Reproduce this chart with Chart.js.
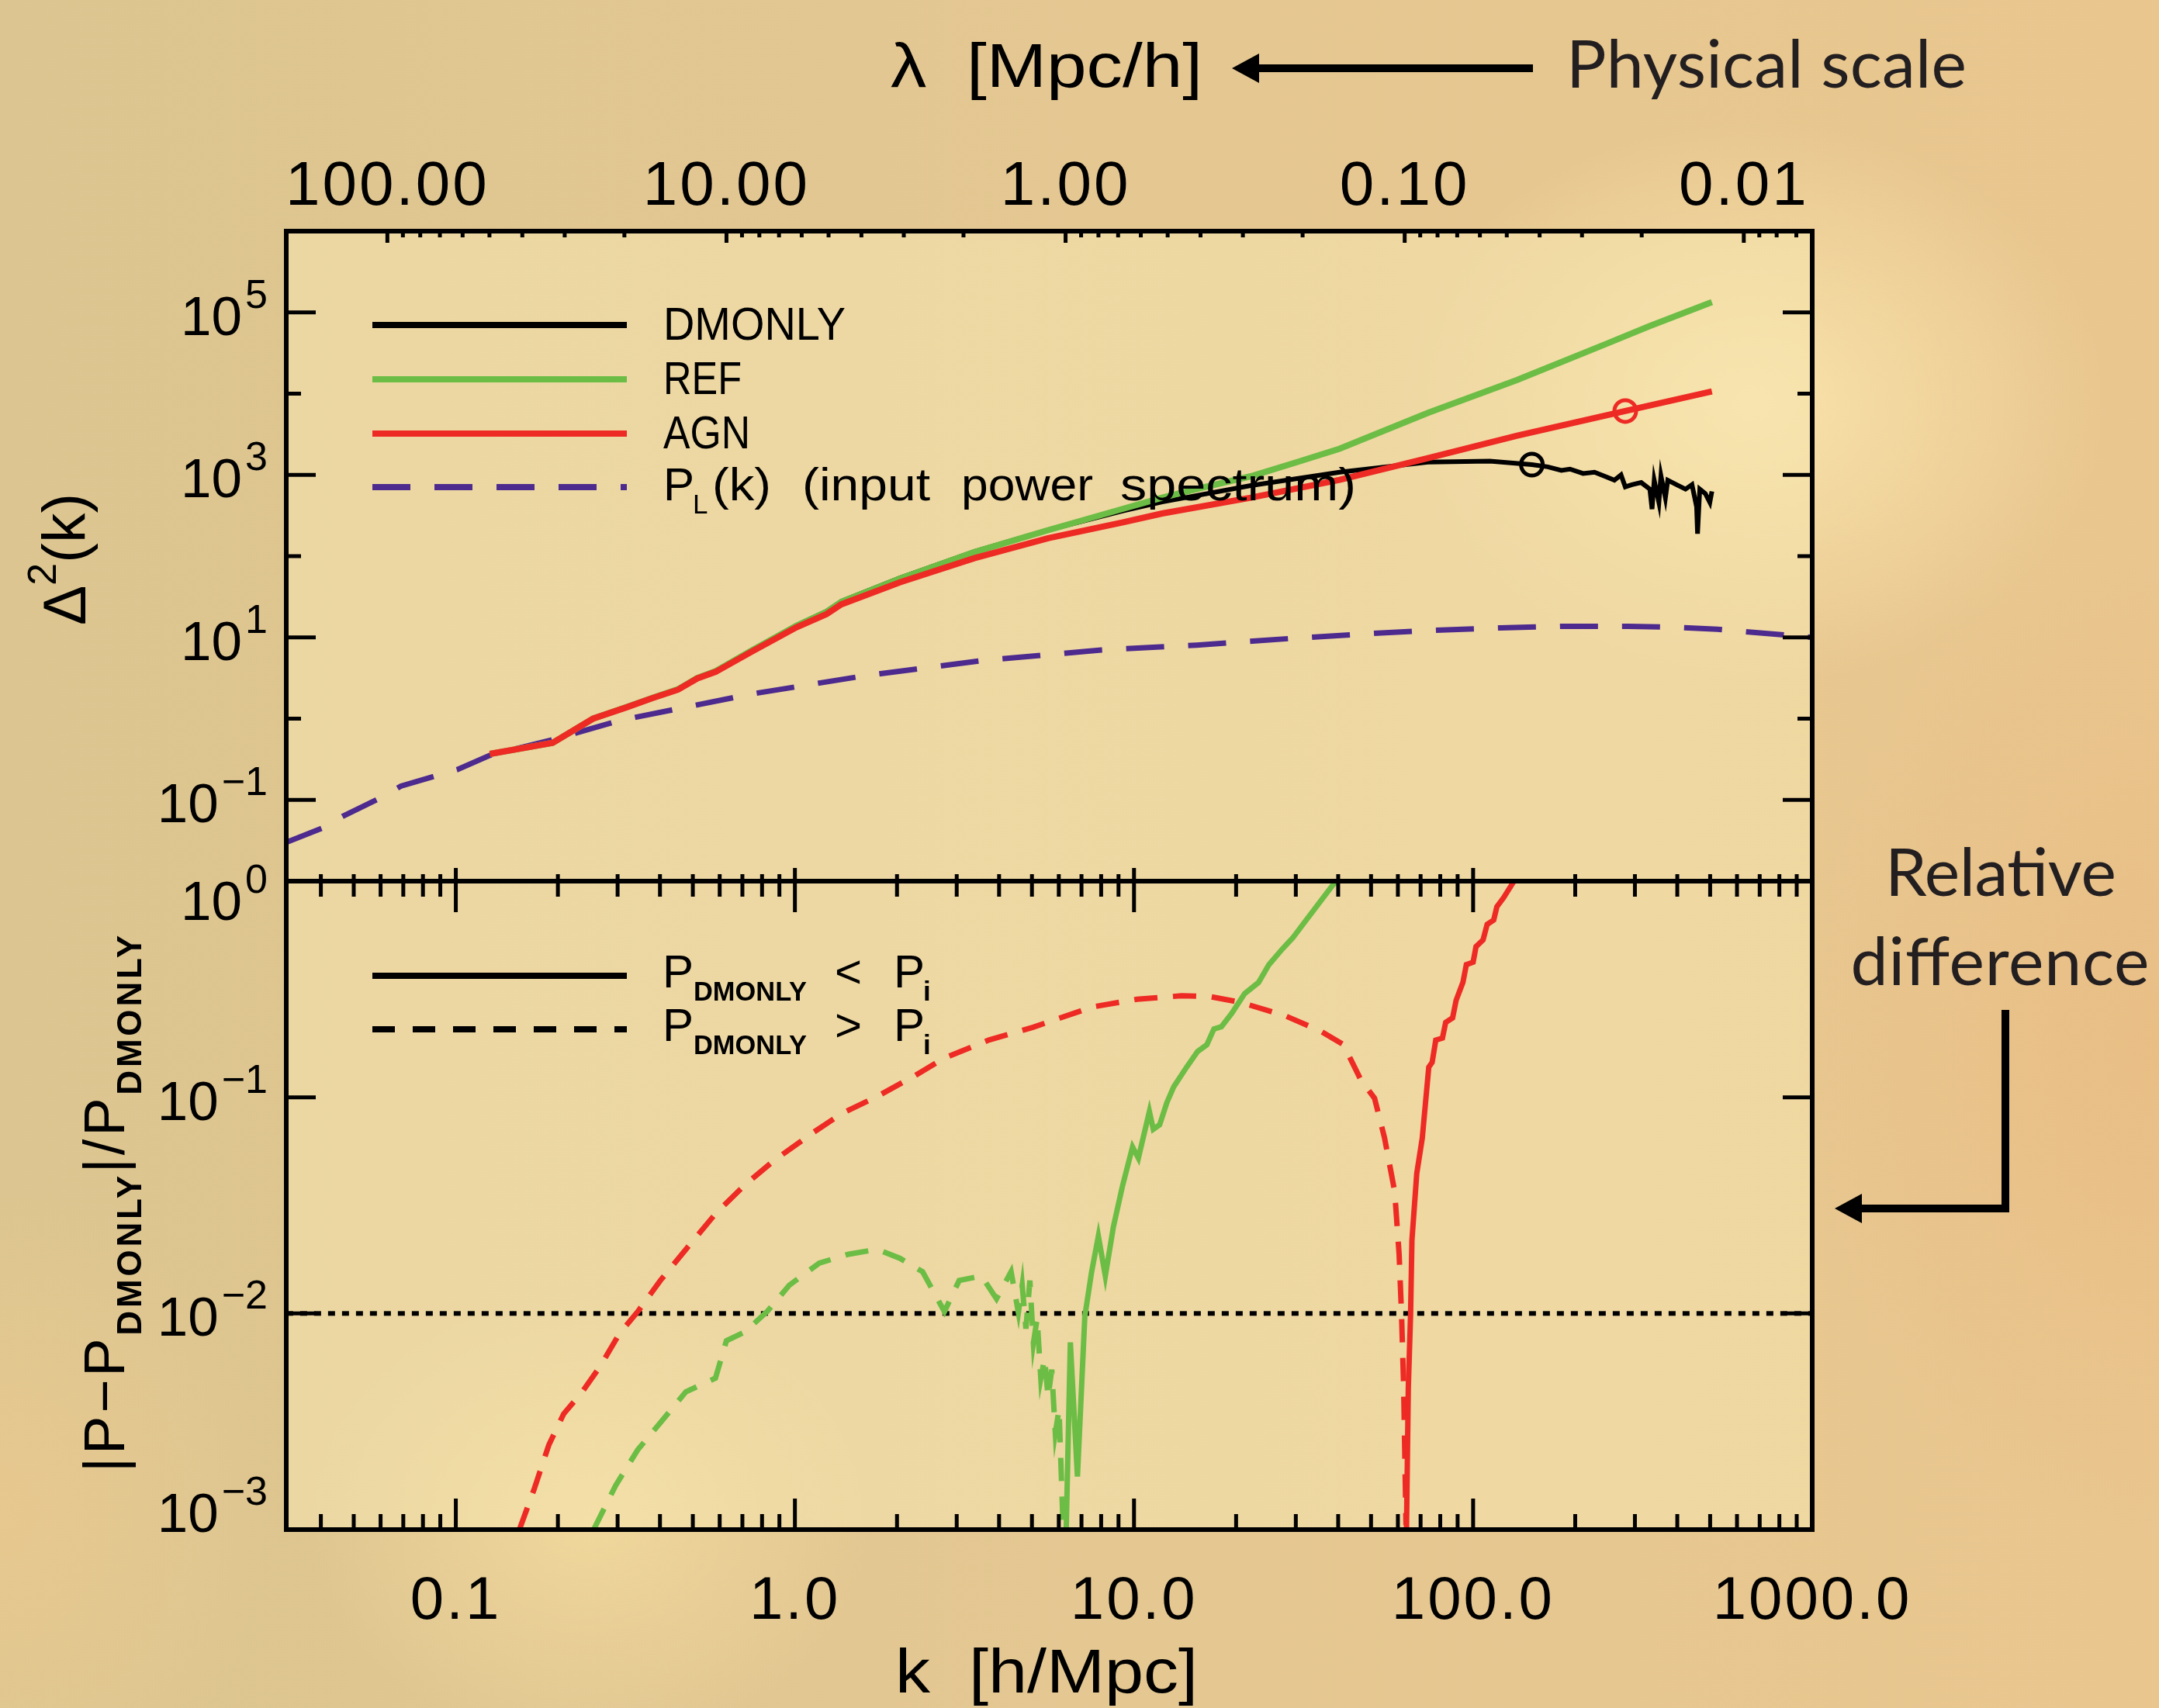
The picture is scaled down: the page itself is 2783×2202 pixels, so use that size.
<!DOCTYPE html>
<html>
<head>
<meta charset="utf-8">
<script src="https://cdn.jsdelivr.net/npm/chart.js@4.4.1/dist/chart.umd.min.js"></script>
<style>
html, body { margin: 0; padding: 0; }
body {
    width: 2783px; height: 2202px; overflow: hidden; position: relative;
    background:
        radial-gradient(650px 520px at 2260px 520px, rgba(252,232,176,0.85), rgba(252,232,176,0) 70%),
        radial-gradient(520px 420px at 760px 1960px, rgba(250,226,162,0.6), rgba(250,226,162,0) 70%),
        radial-gradient(700px 900px at 2783px 1350px, rgba(232,184,126,0.55), rgba(232,184,126,0) 70%),
        radial-gradient(500px 600px at 0px 1950px, rgba(242,204,142,0.5), rgba(242,204,142,0) 70%),
        linear-gradient(90deg, #dcc590 0%, #e3c792 40%, #e7c790 75%, #e9c68e 100%);
}
canvas, svg { position: absolute; left: 0; top: 0; }
</style>
</head>
<body>
<canvas id="lower" width="2783" height="2202"></canvas>
<canvas id="upper" width="2783" height="2202"></canvas>
<svg id="notes" width="2783" height="2202" xmlns="http://www.w3.org/2000/svg">
    <!-- 顶部注释 -->
    <text x="1148" y="112" xml:space="preserve" font-family="Liberation Sans, Arial, sans-serif" font-size="80" textLength="402" lengthAdjust="spacingAndGlyphs">λ  [Mpc/h]</text>
    <rect x="1619" y="83" width="357" height="10" fill="#000"/>
    <polygon points="1588,88 1623,69 1623,107" fill="#000"/>
    <text x="2019" y="113" font-family="Lato, 'Open Sans', sans-serif" font-size="86" fill="#231f20" textLength="516" lengthAdjust="spacing">Physical scale</text>
    <!-- 右侧注释 -->
    <text x="2579" y="1155" text-anchor="middle" font-family="Lato, 'Open Sans', sans-serif" font-size="86" fill="#231f20" textLength="298" lengthAdjust="spacing">Relative</text>
    <text x="2578" y="1270" text-anchor="middle" font-family="Lato, 'Open Sans', sans-serif" font-size="86" fill="#231f20" textLength="385" lengthAdjust="spacing">difference</text>
    <rect x="2580" y="1302" width="10" height="261" fill="#000"/>
    <rect x="2396" y="1553" width="194" height="10" fill="#000"/>
    <polygon points="2365,1558 2400,1539 2400,1577" fill="#000"/>
    <!-- 坐标轴标题 -->
    <text x="1154" y="2182" xml:space="preserve" font-family="Liberation Sans, Arial, sans-serif" font-size="80" textLength="390" lengthAdjust="spacingAndGlyphs">k  [h/Mpc]</text>
    <g transform="translate(110,721) rotate(-90)">
        <text x="0" y="0" text-anchor="middle" font-family="Liberation Sans, Arial, sans-serif" font-size="77">Δ<tspan dy="-38" font-size="52">2</tspan><tspan dy="38">(k)</tspan></text>
    </g>
    <g transform="translate(160,1552) rotate(-90)">
        <text x="0" y="0" text-anchor="middle" font-family="Liberation Sans, Arial, sans-serif" font-size="74" textLength="692" lengthAdjust="spacing">|P−P<tspan dy="22" font-size="44" font-weight="bold">DMONLY</tspan><tspan dy="-22">|/P</tspan><tspan dy="22" font-size="44" font-weight="bold">DMONLY</tspan></text>
    </g>
</svg>
<script>
// ---- 上图: Δ²(k) ----
const kLinear = [0.0316, 0.0408, 0.0463, 0.0594, 0.0689, 0.0866, 0.101, 0.126, 0.193, 0.303, 0.75, 1.59, 3.55, 8.0, 15.3, 30, 51, 74, 120, 182, 286, 400, 525, 1000];
const deltaLinear = [0.030, 0.0458, 0.0627, 0.104, 0.148, 0.196, 0.236, 0.354, 0.55, 0.946, 2.02, 3.35, 5.18, 7.0, 8.04, 9.8, 11.2, 12.2, 13.1, 13.7, 13.7, 13.3, 12.6, 10.0];

const kDmonly = [0.126, 0.193, 0.254, 0.319, 0.38, 0.452, 0.515, 0.584, 0.75, 1.01, 1.24, 1.37, 2.04, 3.38, 5.58, 9.23, 12.1, 22.1, 40.4, 73.6, 112, 149, 166, 182, 193, 211, 228, 246, 261, 273, 281, 294, 313, 332, 337, 342, 353, 358, 369, 375, 398, 423, 442, 456, 459, 466, 484, 499, 506];
const deltaDmonly = [0.368, 0.505, 1.0, 1.39, 1.81, 2.31, 3.19, 3.88, 7.06, 14.1, 21.0, 27.8, 54, 114, 210, 360, 465, 740, 1080, 1440, 1476, 1337, 1256, 1135, 1180, 1040, 1080, 951, 860, 1000, 712, 758, 807, 668, 379, 860, 458, 975, 519, 860, 758, 668, 758, 404, 189, 668, 589, 458, 627];

const kRef = [0.126, 0.193, 0.254, 0.319, 0.38, 0.452, 0.515, 0.584, 0.75, 1.01, 1.24, 1.37, 2.04, 3.38, 5.58, 9.23, 12.1, 16.0, 22.1, 30, 40.4, 73.6, 135, 246, 331, 506];
const deltaRef = [0.368, 0.505, 1.0, 1.39, 1.80, 2.30, 3.17, 3.85, 7.0, 13.9, 20.6, 27.3, 53, 112, 209, 380, 523, 703, 962, 1422, 2100, 5800, 14750, 40700, 67800, 133500];

const kAgn = [0.126, 0.193, 0.254, 0.319, 0.38, 0.452, 0.515, 0.584, 0.75, 1.01, 1.24, 1.37, 2.04, 3.38, 5.58, 9.23, 12.1, 22.1, 40.4, 73.6, 135, 281, 506];
const deltaAgn = [0.368, 0.504, 1.0, 1.38, 1.79, 2.27, 3.12, 3.77, 6.77, 13.3, 19.4, 25.5, 47.7, 94.4, 166, 259, 335, 524, 869, 1610, 3040, 6110, 10640];

// 圆圈标记
const kDmonlyMark = [149];
const deltaDmonlyMark = [1337];
const kAgnMark = [281];
const deltaAgnMark = [6110];

// ---- 下图: |P-P_DMONLY|/P_DMONLY ----
const kRefAbove = [0.255, 0.296, 0.344, 0.400, 0.477, 0.583, 0.628, 0.713, 0.828, 0.962, 1.18, 1.44, 1.75, 2.04, 2.38, 2.76, 3.05, 3.55, 3.93, 4.34, 4.56, 4.68, 4.80, 4.93, 5.05, 5.18, 5.31, 5.45, 5.58, 5.72, 5.86, 6.01, 6.17];
const relRefAbove = [0.001, 0.0016, 0.00234, 0.00311, 0.00434, 0.00502, 0.00748, 0.00823, 0.0102, 0.0135, 0.0171, 0.0188, 0.0198, 0.018, 0.0156, 0.0102, 0.0142, 0.0149, 0.0117, 0.0156, 0.0101, 0.0135, 0.0085, 0.0142, 0.0073, 0.0095, 0.0050, 0.0062, 0.0041, 0.0055, 0.0028, 0.0036, 0.00109];

const kRefBelow = [6.31, 6.49, 6.81, 7.16, 7.50, 7.85, 8.23, 8.69, 9.23, 9.90, 10.3, 11.1, 11.4, 11.9, 12.5, 13.1, 14.3, 15.4, 16.4, 17.2, 18.1, 19.4, 21.2, 23.3, 25.0, 27.4, 29.4, 31.5, 34.5, 38.7, 40.0];
const relRefBelow = [0.001, 0.00735, 0.00176, 0.0097, 0.0156, 0.0228, 0.0149, 0.0251, 0.0384, 0.0589, 0.0523, 0.0860, 0.0711, 0.0746, 0.0946, 0.112, 0.138, 0.163, 0.175, 0.207, 0.212, 0.244, 0.302, 0.340, 0.411, 0.486, 0.547, 0.631, 0.762, 0.967, 1.0];

const kAgnAbove = [0.154, 0.170, 0.188, 0.208, 0.236, 0.268, 0.303, 0.344, 0.401, 0.477, 0.583, 0.713, 0.869, 1.12, 1.37, 1.75, 2.26, 2.76, 3.73, 5.04, 7.55, 10.2, 13.8, 16.8, 20.6, 27.8, 35.6, 41.5, 46.7, 51.2, 54.8, 58.7, 60.5, 61.5, 62.4, 63.4];
const relAgnAbove = [0.001, 0.00153, 0.00246, 0.00343, 0.00434, 0.00577, 0.00802, 0.0102, 0.0142, 0.0198, 0.0289, 0.0394, 0.0511, 0.0679, 0.0839, 0.101, 0.126, 0.152, 0.184, 0.211, 0.262, 0.284, 0.295, 0.292, 0.275, 0.239, 0.202, 0.175, 0.120, 0.099, 0.0649, 0.0367, 0.0188, 0.00994, 0.00454, 0.00105];

const kAgnBelow = [63.6, 64.4, 65.4, 66.0, 68.2, 70.8, 74.0, 75.7, 77.6, 81.2, 83.0, 87.0, 89.1, 93.3, 95.5, 100, 102, 107, 110, 115, 117.5, 123, 132];
const relAgnBelow = [0.001, 0.00454, 0.00994, 0.0218, 0.0444, 0.0647, 0.138, 0.145, 0.184, 0.188, 0.222, 0.233, 0.281, 0.340, 0.411, 0.422, 0.498, 0.535, 0.631, 0.661, 0.762, 0.839, 1.0];

// 1% 参考线
const kLevel = [0.0316, 1000];
const relLevel = [0.01, 0.01];

// 刻度标签
const lambdaTickValues = [100, 10, 1, 0.1, 0.01];
const lambdaTickLabels = ['100.00', '10.00', '1.00', '0.10', '0.01'];
const kTickValues = [0.1, 1, 10, 100, 1000];
const kTickLabels = ['0.1', '1.0', '10.0', '100.0', '1000.0'];
const upperExponents = [-1, 1, 3, 5];
const lowerExponents = [0, -1, -2, -3];

// 图例
const upperLegendNames = ['DMONLY', 'REF', 'AGN'];

const K_MIN = Math.pow(10, -1.5);
const K_MAX = 1000;
const GREEN = '#6cbd45';
const RED = '#ee2a24';
const PURPLE = '#4d2a8e';
const FONT = '"Liberation Sans", Arial, sans-serif';

const zip = (xs, ys) => xs.map((x, i) => ({ x: x, y: ys[i] }));

function lineSet(xs, ys, color, width, dash) {
    return {
        data: zip(xs, ys),
        borderColor: color,
        borderWidth: width,
        borderDash: dash || [],
        pointRadius: 0,
        fill: false,
        tension: 0,
        xAxisID: 'x',
        yAxisID: 'y'
    };
}

function markSet(xs, ys, color) {
    return {
        data: zip(xs, ys),
        showLine: false,
        pointRadius: 14,
        pointBorderWidth: 5,
        pointBorderColor: color,
        pointBackgroundColor: 'rgba(0,0,0,0)',
        xAxisID: 'x',
        yAxisID: 'y'
    };
}

// 对数刻度: 1..9 × 10^n
function logTicks(min, max) {
    const out = [];
    for (let e = Math.floor(Math.log10(min)) - 1; e <= Math.ceil(Math.log10(max)); e++) {
        for (let m = 1; m <= 9; m++) {
            const v = m * Math.pow(10, e);
            if (v >= min * 0.9999 && v <= max * 1.0001) out.push({ v: v, major: m === 1 });
        }
    }
    return out;
}

function seg(ctx, x1, y1, x2, y2) {
    ctx.beginPath();
    ctx.moveTo(x1, y1);
    ctx.lineTo(x2, y2);
    ctx.stroke();
}

function put(ctx, s, x, y, size, opts) {
    opts = opts || {};
    ctx.font = (opts.bold ? 'bold ' : '') + size + 'px ' + FONT;
    ctx.textAlign = opts.align || 'left';
    ctx.textBaseline = 'alphabetic';
    ctx.fillStyle = '#000';
    ctx.fillText(s, x, y);
}

// 按给定宽度横向拉伸文字
function putFit(ctx, s, x, y, size, width, opts) {
    opts = opts || {};
    ctx.font = (opts.bold ? 'bold ' : '') + size + 'px ' + FONT;
    const w = ctx.measureText(s).width;
    ctx.save();
    ctx.translate(x, y);
    ctx.scale(width / w, 1);
    put(ctx, s, 0, 0, size, opts);
    ctx.restore();
}

function powLabel(ctx, exp, right, base) {
    const sup = exp < 0 ? '\u2212' + Math.abs(exp) : String(exp);
    ctx.font = '52px ' + FONT;
    const supW = ctx.measureText(sup).width;
    put(ctx, sup, right - supW, base - 35, 52);
    put(ctx, '10', right - supW - 4, base, 71, { align: 'right' });
}

function fillPlot(chart) {
    const { ctx, chartArea: a } = chart;
    ctx.save();
    ctx.fillStyle = 'rgba(246,230,176,0.55)';
    ctx.fillRect(a.left, a.top, a.right - a.left, a.bottom - a.top);
    ctx.restore();
}

function yLabels(chart, exps) {
    const { ctx, chartArea: a, scales } = chart;
    exps.forEach(e => {
        const py = scales.y.getPixelForValue(Math.pow(10, e));
        const base = Math.min(Math.max(py + 29, a.top + 50), a.bottom + 3);
        powLabel(ctx, e, 345, base);
    });
}

function legendLine(ctx, y, color, width, dash) {
    ctx.save();
    ctx.strokeStyle = color;
    ctx.lineWidth = width;
    ctx.lineCap = 'butt';
    ctx.setLineDash(dash || []);
    seg(ctx, 480, y, 808, y);
    ctx.restore();
}

// 上图: 坐标框、刻度、标签、图例
const upperFrame = {
    id: 'upperFrame',
    beforeDatasetsDraw(chart) { fillPlot(chart); },
    afterDatasetsDraw(chart) {
        const { ctx, chartArea: a, scales } = chart;
        ctx.save();
        ctx.strokeStyle = '#000';
        ctx.lineWidth = 5;
        logTicks(K_MIN, K_MAX).forEach(t => {
            const px = scales.x.getPixelForValue(t.v);
            seg(ctx, px, a.bottom, px, a.bottom - (t.major ? 17 : 9));
        });
        logTicks(scales.lam.min, scales.lam.max).forEach(t => {
            const px = scales.lam.getPixelForValue(t.v);
            seg(ctx, px, a.top, px, a.top + (t.major ? 15 : 8));
        });
        for (let e = -2; e <= 6; e++) {
            const py = scales.y.getPixelForValue(Math.pow(10, e));
            const len = upperExponents.includes(e) ? 38 : 19;
            seg(ctx, a.left, py, a.left + len, py);
            seg(ctx, a.right, py, a.right - len, py);
        }
        ctx.lineWidth = 6;
        ctx.strokeRect(a.left, a.top, a.right - a.left, a.bottom - a.top);

        ctx.letterSpacing = '3px';
        lambdaTickValues.forEach((v, i) => {
            put(ctx, lambdaTickLabels[i], scales.lam.getPixelForValue(v), 264, 80, { align: 'center' });
        });
        ctx.letterSpacing = '0px';
        yLabels(chart, upperExponents);

        // 图例
        const rows = [419, 489, 559, 628];
        legendLine(ctx, rows[0], '#000', 8);
        legendLine(ctx, rows[1], GREEN, 8);
        legendLine(ctx, rows[2], RED, 8);
        legendLine(ctx, rows[3], PURPLE, 8, [49, 31]);
        const nameWidths = [235, 101, 112];
        upperLegendNames.forEach((name, i) => putFit(ctx, name, 855, rows[i] + 19, 60, nameWidths[i]));
        const by = rows[3] + 17;
        put(ctx, 'P', 855, by, 60);
        put(ctx, 'L', 893, by + 17, 35);
        putFit(ctx, '(k)', 918, by, 60, 76);
        putFit(ctx, '(input', 1034, by, 60, 165);
        putFit(ctx, 'power', 1239, by, 60, 170);
        putFit(ctx, 'spectrum)', 1444, by, 60, 304);
        ctx.restore();
    }
};

// 下图: 坐标框、刻度、标签、图例
const lowerFrame = {
    id: 'lowerFrame',
    beforeDatasetsDraw(chart) { fillPlot(chart); },
    afterDatasetsDraw(chart) {
        const { ctx, chartArea: a, scales } = chart;
        ctx.save();
        ctx.strokeStyle = '#000';
        ctx.lineWidth = 5;
        logTicks(K_MIN, K_MAX).forEach(t => {
            const px = scales.x.getPixelForValue(t.v);
            const len = t.major ? 40 : 20;
            seg(ctx, px, a.top, px, a.top + len);
            seg(ctx, px, a.bottom, px, a.bottom - len);
        });
        lowerExponents.forEach(e => {
            const py = scales.y.getPixelForValue(Math.pow(10, e));
            seg(ctx, a.left, py, a.left + 38, py);
            seg(ctx, a.right, py, a.right - 38, py);
        });
        ctx.lineWidth = 6;
        ctx.strokeRect(a.left, a.top, a.right - a.left, a.bottom - a.top);

        ctx.letterSpacing = '3px';
        kTickValues.forEach((v, i) => {
            put(ctx, kTickLabels[i], scales.x.getPixelForValue(v), 2087, 78, { align: 'center' });
        });
        ctx.letterSpacing = '0px';
        yLabels(chart, lowerExponents);

        // 图例
        legendLine(ctx, 1258, '#000', 8);
        legendLine(ctx, 1327, '#000', 8, [29, 23]);
        [[1273, '<'], [1342, '>']].forEach(([by, op]) => {
            put(ctx, 'P', 854, by, 60);
            putFit(ctx, 'DMONLY', 894, by + 17, 35, 146, { bold: true });
            put(ctx, op, 1076, by, 60);
            put(ctx, 'P', 1152, by, 60);
            put(ctx, 'i', 1190, by + 17, 35, { bold: true });
        });
        ctx.restore();
    }
};

const baseOptions = (padding, yMin, yMax, extraScales) => ({
    responsive: false,
    animation: false,
    devicePixelRatio: 1,
    layout: { padding: padding },
    scales: Object.assign({
        x: { type: 'logarithmic', min: K_MIN, max: K_MAX, display: false },
        y: { type: 'logarithmic', min: yMin, max: yMax, display: false }
    }, extraScales || {}),
    plugins: { legend: { display: false }, tooltip: { enabled: false } },
    elements: { point: { radius: 0 }, line: { tension: 0 } }
});

new Chart(document.getElementById('upper'), {
    type: 'line',
    data: {
        datasets: [
            markSet(kDmonlyMark, deltaDmonlyMark, '#000'),
            markSet(kAgnMark, deltaAgnMark, RED),
            lineSet(kAgn, deltaAgn, RED, 8),
            lineSet(kRef, deltaRef, GREEN, 8),
            lineSet(kDmonly, deltaDmonly, '#000', 6),
            lineSet(kLinear, deltaLinear, PURPLE, 7, [49, 31])
        ]
    },
    options: baseOptions({ left: 369, right: 447, top: 298, bottom: 1066 }, 1e-2, 1e6, {
        lam: { type: 'logarithmic', axis: 'x', position: 'top', reverse: true,
               min: 2 * Math.PI / K_MAX, max: 2 * Math.PI / K_MIN, display: false }
    }),
    plugins: [upperFrame]
});

new Chart(document.getElementById('lower'), {
    type: 'line',
    data: {
        datasets: [
            lineSet(kAgnBelow, relAgnBelow, RED, 7),
            lineSet(kAgnAbove, relAgnAbove, RED, 7, [30, 20]),
            lineSet(kRefBelow, relRefBelow, GREEN, 7),
            lineSet(kRefAbove, relRefAbove, GREEN, 7, [30, 20]),
            lineSet(kLevel, relLevel, '#000', 6, [9, 9])
        ]
    },
    options: baseOptions({ left: 369, right: 447, top: 1136, bottom: 230 }, 1e-3, 1),
    plugins: [lowerFrame]
});
</script>
</body>
</html>
